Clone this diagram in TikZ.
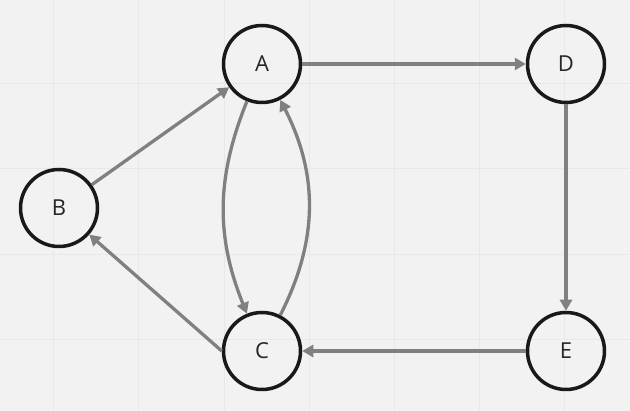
\documentclass[tikz,border=0pt]{standalone}
\usepackage{fontspec}
\setmainfont{Open Sans}
\usetikzlibrary{arrows.meta}
\begin{document}
\begin{tikzpicture}[x=1pt,y=-1pt,
  vertex/.style={circle,draw=black!90,line width=3.5pt,minimum size=77pt,inner sep=0pt,
    font=\fontsize{22}{25}\selectfont,text=black!85},
  edge/.style={draw=black!50,line width=3.3pt,-{Triangle[length=11pt,width=12pt]}},
  gridline/.style={draw=black!9,line width=0.8pt}]
\fill[black!5] (0,0) rectangle (630,411);
\useasboundingbox (0,0) rectangle (630,411);
\foreach \x in {53,138.5,224,309,394,479.5,564.5} \draw[gridline] (\x,0) -- (\x,411);
\foreach \y in {83,168.5,254,339.5} \draw[gridline] (0,\y) -- (630,\y);
\node[vertex] (A) at (262,64) {A};
\node[vertex] (B) at (59,208) {B};
\node[vertex] (C) at (262,351) {C};
\node[vertex] (D) at (566,64) {D};
\node[vertex] (E) at (566,351) {E};
\draw[edge] (A) -- (D);
\draw[edge] (D) -- (E);
\draw[edge] (E) -- (C);
\draw[edge] (C.west) -- (B);
\draw[edge] (B) -- (A);
\draw[edge] (A) to[bend right=22] (C);
\draw[edge] (C) to[bend right=27] (A);
\end{tikzpicture}
\end{document}
